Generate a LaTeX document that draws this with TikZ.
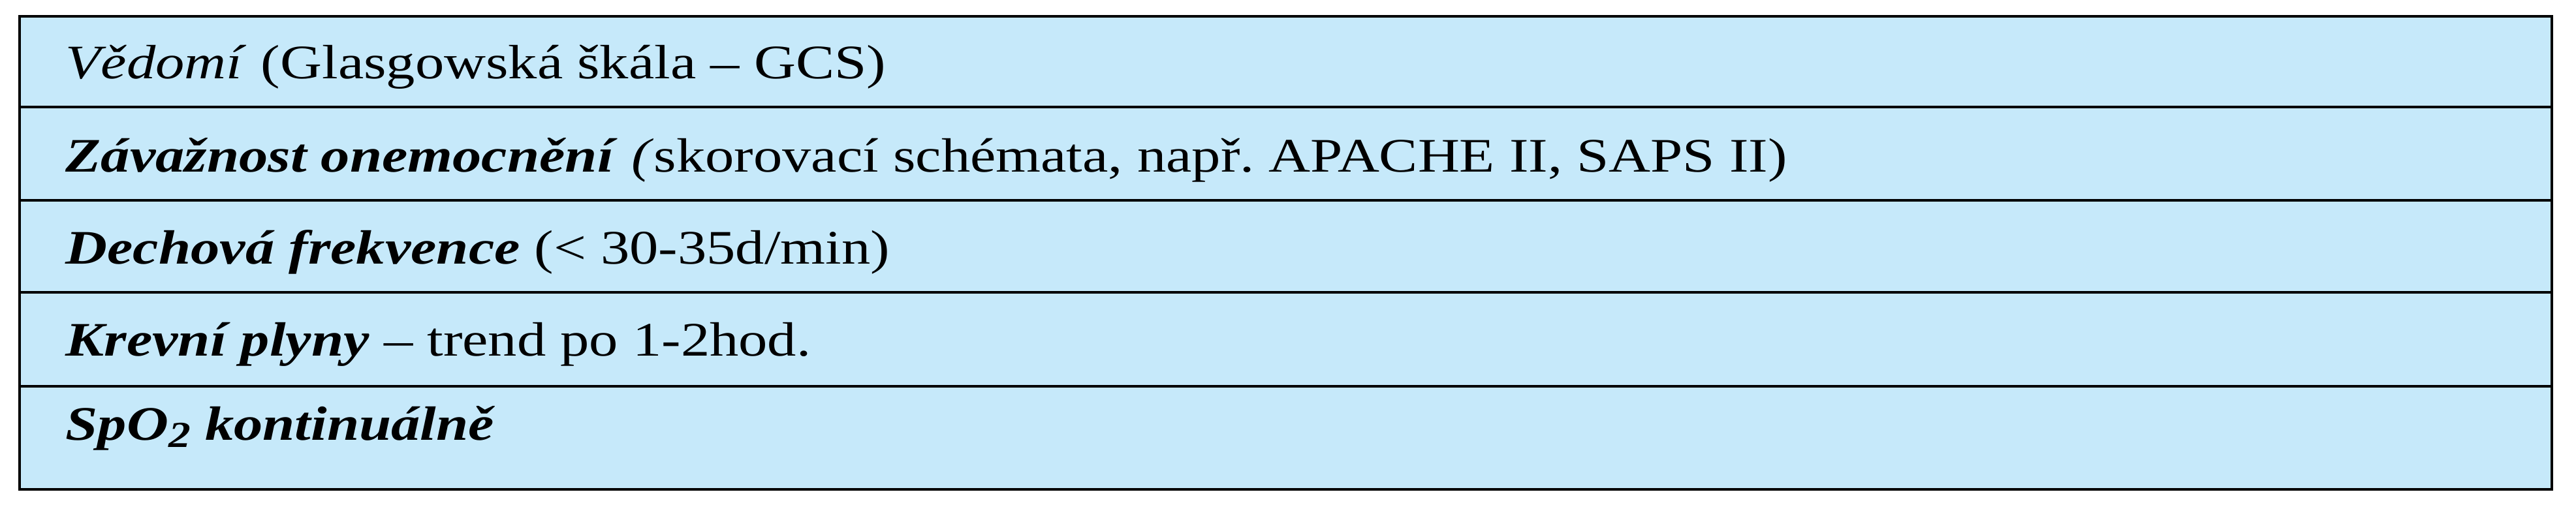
\documentclass[tikz,border=0pt]{standalone}
\usepackage{fontspec}
\setmainfont{Liberation Serif}[FakeStretch=1.2]
\definecolor{cellblue}{HTML}{C6E9FA}
\frenchspacing
\begin{document}
\begin{tikzpicture}[x=1cm,y=1cm,
  rowtext/.style={anchor=base west,inner sep=0pt,font=\fontsize{21pt}{25pt}\selectfont}]
\useasboundingbox (0,0) rectangle (39.46,8);
\fill[cellblue] (0.30,0.50) rectangle (39.09,7.75);
\draw[line width=1.2pt] (0.30,0.50) rectangle (39.09,7.75);
\foreach \y in {6.36,4.93,3.52,2.08} \draw[line width=1.2pt] (0.30,\y) -- (39.09,\y);
\node[rowtext] (r1) at (1.0,6.79) {\textit{Vědomí} (Glasgowská škála – GCS)};
\node[rowtext] (r2) at (1.0,5.36) {\textbf{\textit{Závažnost onemocnění}} \textit{(}skorovací schémata, např. APACHE II, SAPS II)};
\node[rowtext] (r3) at (1.0,3.95) {\textbf{\textit{Dechová frekvence}} (< 30-35d/min)};
\node[rowtext] (r4) at (1.0,2.54) {\textbf{\textit{Krevní plyny}} – trend po 1-2hod.};
\node[rowtext] (r5) at (1.0,1.25) {\textbf{\textit{SpO\raisebox{-0.3ex}{\fontsize{16pt}{18pt}\selectfont 2} kontinuálně}}};
\end{tikzpicture}
\end{document}
